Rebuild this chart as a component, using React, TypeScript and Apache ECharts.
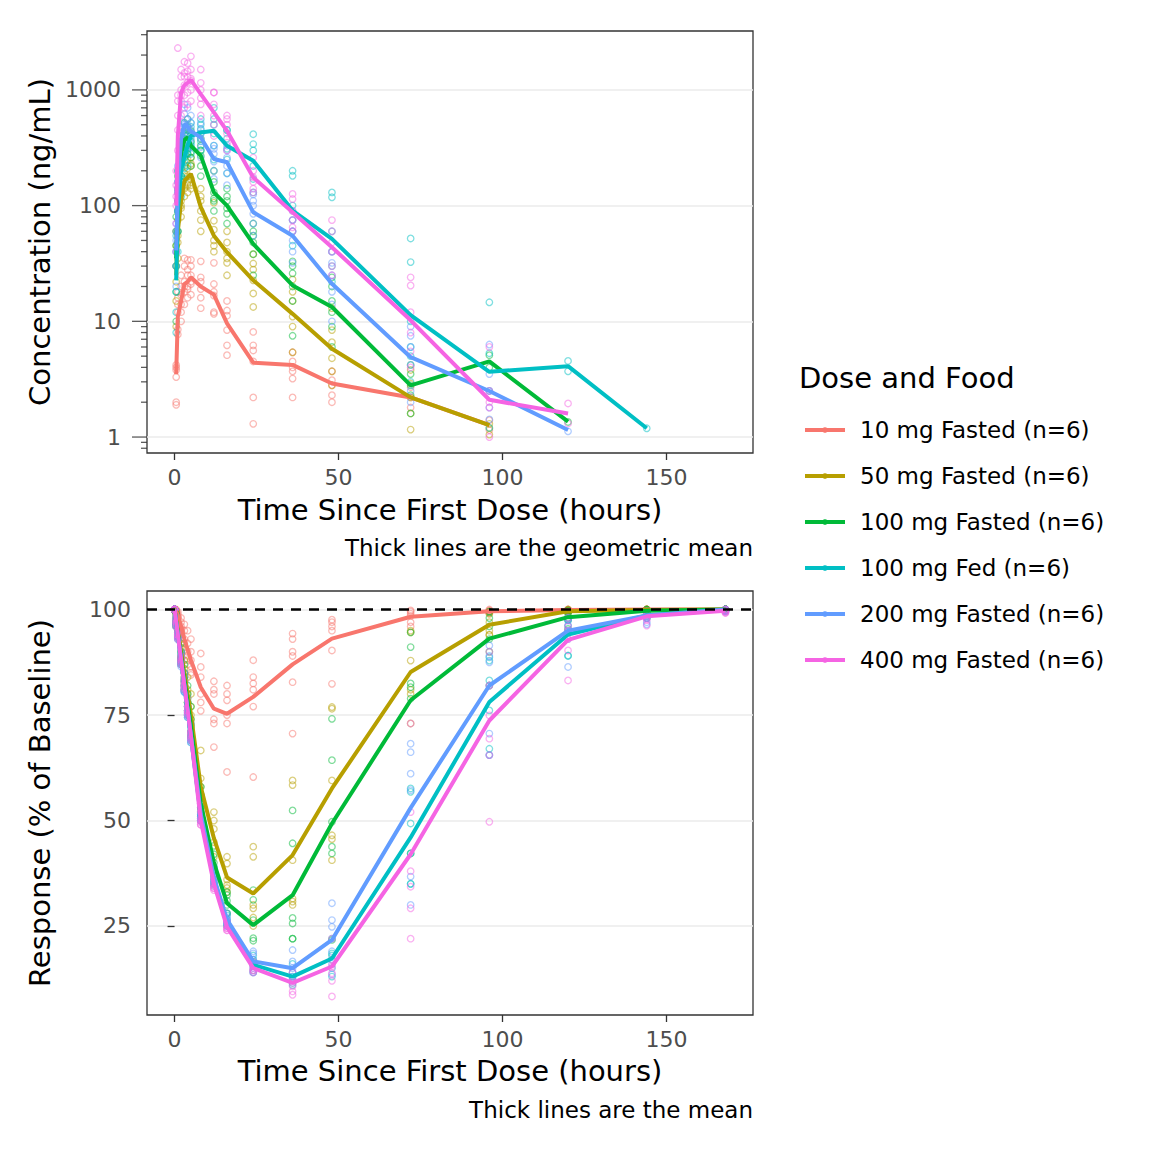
import React, { useEffect, useRef } from 'react';
import * as echarts from 'echarts';

const FONT = 'DejaVu Sans';

const groupNames = [
  '10 mg Fasted (n=6)',
  '50 mg Fasted (n=6)',
  '100 mg Fasted (n=6)',
  '100 mg Fed (n=6)',
  '200 mg Fasted (n=6)',
  '400 mg Fasted (n=6)',
];
const groupColors = ['#F8766D', '#B79F00', '#00BA38', '#00BFC4', '#619CFF', '#F564E3'];

// sampling times (hours)
const pkTimes = [0.5, 1, 2, 3, 4, 5, 8, 12, 16, 24, 36, 48, 72, 96, 120, 144];
const pdTimes = [0, 0.5, 1, 2, 3, 4, 5, 8, 12, 16, 24, 36, 48, 72, 96, 120, 144, 168];

// axis ticks
const xTickValues = [0, 50, 100, 150];
const pdTickValues = [25, 50, 75, 100];
const pkMajorTicks = [1, 10, 100, 1000];
const pkMinorTicks = [0.8, 0.9, 2, 3, 4, 5, 6, 7, 8, 9, 20, 30, 40, 50, 60, 70, 80, 90,
  200, 300, 400, 500, 600, 700, 800, 900, 2000, 3000];

// geometric mean concentration (ng/mL), one value per pkTimes entry
const pkMean10 = [3.5, 11, 15, 21, 22, 24, 20, 17, 9.6, 4.4, 4.2, 2.9, 2.2, 1.27, null, null];
const pkMean50 = [25, 60, 110, 164, 175, 188, 97, 55, 39.6, 22.6, 11.6, 5.8, 2.2, 1.27, null, null];
const pkMean100 = [35, 120, 280, 370, 388, 329, 270, 130, 100, 46.6, 20.4, 13.3, 2.8, 4.5, 1.36, null];
const pkMeanFed = [22.6, 90, 200, 261, 330, 400, 428, 443, 329, 244, 90.6, 51.6, 11.3, 3.66, 4.1, 1.19];
const pkMean200 = [41, 150, 380, 506, 480, 440, 388, 253, 237, 87.5, 55, 21.1, 4.9, 2.5, 1.15, null];
const pkMean400 = [100, 400, 950, 1100, 1150, 1220, 920, 640, 443, 175, 87.5, 43.7, 10.2, 2.1, 1.6, null];

// individual concentrations, one list per pkTimes entry
const pkObs10 = [
  [3.3, 3.8, 4.0, 4.2, 2.0, 1.9], [7.7, 8.5, 12, 14, 16, 18], [10, 12, 14, 17, 20, 25],
  [14, 18, 20, 22, 30, 35], [16, 19, 20, 25, 28, 34], [17, 21, 22, 25, 30, 34],
  [13, 16, 19, 22, 24, 33], [11.6, 12, 16.7, 18, 21, 32], [5.1, 6.2, 8.4, 11.2, 12.4, 15],
  [1.3, 2.2, 4.5, 5.6, 6.2, 8.1], [2.2, 3.2, 3.7, 4.0, 4.5, 5.4], [2.0, 2.3, 2.8, 3.1, 3.7],
  [1.8, 2.2, 2.7], [1.15, 1.4], [], [],
];
const pkObs50 = [
  [9, 15, 22, 30, 45, 60], [35, 48, 55, 60, 75, 90], [80, 95, 100, 110, 130, 160],
  [120, 140, 150, 180, 190, 220], [130, 150, 160, 180, 210, 250], [140, 150, 170, 220, 230, 260],
  [60, 75, 90, 110, 120, 140], [40, 45, 50, 62, 74, 106], [25, 32, 35, 40, 48, 60],
  [13.3, 17.4, 22.6, 28, 31.6, 38], [5.4, 9, 11, 15, 18, 23], [2.8, 3.7, 4.8, 6.6, 8.4, 13],
  [1.16, 1.6, 2.2, 2.9, 3.8], [1.05, 1.2, 1.3], [], [],
];
const pkObs100 = [
  [10, 18, 30, 45, 60, 80], [60, 90, 110, 140, 180, 200], [180, 230, 250, 320, 350, 400],
  [260, 300, 330, 420, 450, 520], [280, 310, 350, 450, 480, 560], [220, 260, 290, 360, 420, 440],
  [180, 220, 270, 300, 330, 380], [90, 110, 115, 130, 160, 200], [70, 85, 95, 110, 120, 140],
  [25, 38, 48, 55, 60, 70], [7.5, 15, 20, 26, 30, 33], [6, 9, 12, 15, 20, 24],
  [1.6, 2.3, 2.8, 3.5, 4.2], [4.0, 5.1], [1.35], [],
];
const pkObsFed = [
  [8, 12, 18, 30, 40, 55], [40, 60, 90, 110, 130, 160], [120, 160, 180, 210, 260, 300],
  [170, 210, 240, 270, 330, 380], [220, 280, 300, 340, 420, 450], [280, 330, 350, 400, 480, 520],
  [300, 360, 420, 460, 500, 560], [250, 330, 420, 500, 560, 700], [190, 250, 310, 380, 450, 450],
  [130, 170, 220, 300, 340, 414], [45, 60, 75, 100, 181, 200], [22, 30, 40, 60, 118, 130],
  [3, 5, 6, 10, 32.5, 52], [1.2, 2.5, 5.3, 14.6], [3.7, 4.55], [1.19],
];
const pkObs200 = [
  [20, 30, 40, 50, 60, 70], [90, 130, 140, 160, 200, 220], [250, 320, 380, 400, 480, 520],
  [360, 440, 500, 520, 620, 750], [330, 420, 480, 500, 560, 700], [320, 380, 420, 450, 520, 600],
  [260, 320, 380, 420, 450, 520], [170, 200, 240, 280, 310, 330], [150, 190, 220, 260, 300, 330],
  [55, 70, 85, 100, 110, 125], [32, 40, 50, 60, 75, 90], [10, 14, 18, 25, 32, 40],
  [2, 2.5, 4.2, 6, 7.5, 9], [1.42, 1.8, 2.5, 3.5, 6.3], [1.12], [],
];
const pkObs400 = [
  [40, 70, 100, 120, 150, 200], [300, 450, 600, 800, 900, 2300], [600, 800, 900, 1000, 1300, 1500],
  [700, 900, 1100, 1300, 1400, 1750], [750, 950, 1150, 1300, 1450, 1700], [800, 1000, 1200, 1250, 1500, 1950],
  [600, 750, 850, 1000, 1150, 1500], [400, 500, 600, 750, 950, 950], [300, 350, 420, 500, 560, 600],
  [130, 140, 160, 176, 200, 260], [60, 65, 75, 90, 114, 126], [25, 30, 40, 48, 60, 75],
  [4, 5.5, 8, 12, 20.4, 24], [1.0, 1.8, 2.0, 2.5, 6], [1.31, 1.95], [],
];

// mean response (% of baseline), one value per pdTimes entry
const pdMean10 = [100, 99.5, 98.5, 96, 93, 90.5, 88, 81.6, 76.5, 75.3, 79.3, 87.0, 93.1, 98.3, 99.6, 99.9, 100, 100];
const pdMean50 = [100, 97.5, 95, 90, 85, 80, 75, 58, 45.8, 36.5, 32.7, 41.8, 57.6, 85.2, 96.4, 99.6, 99.9, 100];
const pdMean100 = [100, 97.2, 94.5, 89, 83.5, 78, 72.5, 54, 40, 30.4, 25.2, 32.3, 49.3, 78.5, 93.1, 98.2, 99.7, 100];
const pdMeanFed = [100, 97, 94, 88, 82, 76, 70, 51, 36, 26, 15.8, 13, 17.3, 46, 78.1, 94.1, 98.6, 99.9];
const pdMean200 = [100, 97, 94, 88, 82, 76, 70, 51.5, 36.5, 26.5, 16.6, 15, 21.7, 53, 82, 95, 98.6, 100];
const pdMean400 = [100, 97, 94, 88, 82, 76, 70, 50, 35, 24.8, 15, 11.5, 15.4, 42, 73.7, 92.8, 98.4, 99.7];

// individual responses, one list per pdTimes entry
const pdObs10 = [
  [100, 100, 100, 100, 100, 100], [100, 99.8, 99.5, 99.4, 99.3, 99], [99.5, 99, 98.5, 98, 98.2, 97.8],
  [98, 97, 96, 95.5, 95, 94.5], [96.5, 95, 93, 92, 91, 90.5], [95, 92, 90, 89, 88, 87],
  [93, 90, 88, 86.5, 85, 84.5], [89.6, 86.4, 84, 80, 78, 76], [83, 81, 80, 74, 73, 67.4],
  [82, 80, 78.5, 75, 73, 61.5], [88, 84, 82.5, 81, 77, 60.3], [94.3, 93, 90, 89, 82.8, 70.6],
  [97.6, 97, 96, 95, 90.3, 82.4], [99.8, 99.5, 99, 98.5, 97, 96], [100, 99.8, 99.7, 99.5, 99.3, 99.2],
  [100, 100, 99.9, 99.9, 99.8, 99.8], [100, 100, 100, 100, 100, 99.9], [100, 100, 100, 100, 100, 100],
];
const pdObs50 = [
  [100, 100, 100, 100, 100, 100], [99.5, 98.5, 97.5, 97, 96.5, 96], [97, 96, 95, 94.5, 94, 93.5],
  [93, 91, 90, 89, 88.5, 88.5], [88, 86, 85, 84, 83.5, 83], [84, 81, 80, 79, 78, 78],
  [80, 77, 75, 74, 73, 71], [66.6, 60, 58, 56, 54, 53], [52, 50, 48, 44.9, 41.4, 38.3],
  [41.4, 39.8, 36, 34.7, 34, 33], [43.8, 41.4, 30, 29.2, 27, 25], [59.5, 58.4, 40.6, 31.5, 30.8, 30],
  [76.9, 76.5, 59.5, 46.5, 45.6, 40.6], [95, 94.6, 87.9, 81, 80, 73], [99.5, 99, 97, 95, 94, 94],
  [100, 99.8, 99.6, 99.5, 99.4, 99.3], [100, 100, 99.9, 99.9, 99.8, 99.8], [100, 100, 100, 100, 100, 100],
];
const pdObs100 = [
  [100, 100, 100, 100, 100, 100], [99, 98, 97, 96.5, 96, 96.5], [96, 95, 94.5, 94, 93.5, 94],
  [92, 90, 89, 88, 87, 88], [87, 85, 83.5, 82, 81, 82.5], [82, 80, 78, 77, 76, 75],
  [77, 74, 72.5, 71, 70, 70], [58, 56, 54, 53, 52, 51], [44, 42, 40, 39, 38, 37],
  [33, 32.3, 31, 30, 28, 28], [33.5, 31.2, 26.4, 22.1, 21.5, 16.5], [52.4, 44.6, 26.9, 25.6, 22, 22],
  [74.1, 64.3, 49.7, 43.8, 42.2, 21.7], [94.6, 91.1, 82.5, 81.6, 78.9, 42.2], [99.5, 98, 96, 93, 90, 82],
  [99.8, 99.5, 99, 98, 97.5, 95.4], [100, 99.9, 99.8, 99.6, 99.5, 99.4], [100, 100, 100, 100, 100, 100],
];
const pdObsFed = [
  [100, 100, 100, 100, 100, 100], [98, 97.5, 97, 96.5, 96, 97], [95, 94.5, 94, 93.5, 93, 94],
  [89.5, 88.5, 88, 87.5, 87, 87.5], [84, 83, 82, 81.5, 81, 80.5], [78, 77, 76, 75.5, 75, 74.5],
  [72, 71, 70, 69.5, 69, 68.5], [53, 51.5, 51, 50.5, 50, 50], [38, 37, 36, 35.5, 35, 34.5],
  [27.5, 26.5, 26, 25.5, 25, 25], [18, 17, 16, 15.5, 14.5, 14], [16, 14, 13, 12.5, 11.5, 11],
  [22, 18.5, 18, 17, 15, 13], [57.6, 56.8, 49.3, 42.2, 35, 35], [88.7, 87.9, 83.2, 76.1, 67, 65.5],
  [98, 97.5, 96.2, 95, 89.1, 89], [99.5, 99, 98.5, 98.5, 98, 98], [100, 100, 99.9, 99.8, 99.8, 99.7],
];
const pdObs200 = [
  [100, 100, 100, 100, 100, 100], [98.5, 97.5, 97, 96.5, 96, 96.5], [95.5, 94.5, 94, 93.5, 93, 93.5],
  [90, 89, 88, 87.5, 87, 86.5], [85, 83, 82, 81, 80.5, 80.5], [79, 77, 76, 75.5, 75, 74.5],
  [73, 71, 70, 69.5, 69, 68.5], [54, 52, 51.5, 51, 50.5, 50], [39, 37.5, 36.5, 36, 35, 35],
  [28, 27, 26.5, 26, 26, 25.5], [19, 18.5, 17, 16, 15, 14], [19.3, 16.6, 15, 14, 13, 12],
  [30.4, 26.4, 24.8, 19, 16, 13.5], [68.2, 66.2, 61.1, 57.2, 36.7, 30], [91.5, 89, 87.5, 82, 70.6, 65.5],
  [98, 97.4, 96.2, 95, 93, 86.4], [99.5, 99, 98.5, 98, 97, 96.5], [100, 100, 99.8, 99.7, 99.6, 99.5],
];
const pdObs400 = [
  [100, 100, 100, 100, 100, 100], [98, 97.5, 97, 96.5, 96, 97], [95, 94.5, 94, 93.5, 93, 94],
  [89, 88.5, 88, 87.5, 87, 88], [83, 83, 82, 81.5, 81, 82], [77, 77, 76, 75.5, 75, 76],
  [71, 71, 70.5, 70, 69.5, 69], [52, 50.5, 50, 49.5, 49, 49], [36, 35, 34.5, 34, 34, 33.5],
  [26, 25, 24.5, 24.5, 24, 24], [16.5, 15.5, 15, 14.5, 14.5, 14], [14, 12, 11.5, 10.7, 9.5, 8.7],
  [22, 17, 15.4, 13.8, 12, 8.3], [73, 52, 38, 34.3, 29.2, 22], [90, 82, 74.9, 69.4, 65.5, 49.7],
  [98, 96, 95, 93, 90.3, 83.2], [99.5, 99, 98.5, 98, 97.5, 96.2], [100, 100, 99.7, 99.5, 99.3, 99.2],
];

const pkMeans = [pkMean10, pkMean50, pkMean100, pkMeanFed, pkMean200, pkMean400];
const pkObs = [pkObs10, pkObs50, pkObs100, pkObsFed, pkObs200, pkObs400];
const pdMeans = [pdMean10, pdMean50, pdMean100, pdMeanFed, pdMean200, pdMean400];
const pdObs = [pdObs10, pdObs50, pdObs100, pdObsFed, pdObs200, pdObs400];

// panel ranges (ggplot's 5% expansion)
const X_MIN = -8.4;
const X_MAX = 176.4;
const PK_MIN = 0.728;
const PK_MAX = 3228;
const PD_MIN = 3.9;
const PD_MAX = 104.4;

const toLine = (times: number[], vals: (number | null)[]) =>
  times.map((t, i) => [t, vals[i]]).filter((p) => p[1] != null);

const toPoints = (times: number[], obs: number[][]) => {
  const out: number[][] = [];
  obs.forEach((list, i) => list.forEach((v) => out.push([times[i], v])));
  return out;
};

const tickStyle = { color: '#333333', width: 1.3 };
const labelStyle = { color: '#4D4D4D', fontSize: 22, fontFamily: FONT };
const gridLine = { show: true, lineStyle: { color: '#EBEBEB', width: 1.5 } };

const xAxisFor = (gridIndex: number) => ({
  type: 'value',
  gridIndex,
  min: X_MIN,
  max: X_MAX,
  axisLine: { show: false },
  axisTick: { show: true, customValues: xTickValues, length: 7, lineStyle: tickStyle },
  axisLabel: { ...labelStyle, customValues: xTickValues, margin: 13 },
  splitLine: { show: false },
});

const text = (t: string, x: number, y: number, size: number, align = 'center', rotation = 0) => ({
  type: 'text',
  x,
  y,
  rotation,
  silent: true,
  style: {
    text: t,
    fontSize: size,
    fontFamily: FONT,
    fill: '#000000',
    align,
    verticalAlign: 'middle',
    textAlign: align,
    textVerticalAlign: 'middle',
  },
});

const App: React.FC = () => {
  const chartRef = useRef<HTMLDivElement>(null);

  useEffect(() => {
    if (!chartRef.current) return;
    const chart = echarts.init(chartRef.current, undefined, { renderer: 'svg' });

    const series: any[] = [];
    // mean lines first so the legend takes its icons from them
    groupNames.forEach((name, g) => {
      const common = {
        type: 'line',
        name,
        showSymbol: false,
        symbol: 'circle',
        symbolSize: 6,
        lineStyle: { width: 4, color: groupColors[g] },
        itemStyle: { color: groupColors[g] },
        z: 3,
      };
      series.push({ ...common, xAxisIndex: 0, yAxisIndex: 0, data: toLine(pkTimes, pkMeans[g]) });
      series.push({ ...common, xAxisIndex: 1, yAxisIndex: 1, data: toLine(pdTimes, pdMeans[g]) });
    });
    groupNames.forEach((name, g) => {
      const common = {
        type: 'scatter',
        name,
        symbol: 'circle',
        symbolSize: 6.5,
        itemStyle: { color: 'rgba(0,0,0,0)', borderColor: groupColors[g], borderWidth: 1.3, opacity: 0.5 },
        z: 2,
      };
      series.push({ ...common, xAxisIndex: 0, yAxisIndex: 0, data: toPoints(pkTimes, pkObs[g]) });
      series.push({ ...common, xAxisIndex: 1, yAxisIndex: 1, data: toPoints(pdTimes, pdObs[g]) });
    });
    // baseline reference
    series.push({
      type: 'line',
      xAxisIndex: 1,
      yAxisIndex: 1,
      data: [],
      z: 4,
      markLine: {
        silent: true,
        symbol: 'none',
        label: { show: false },
        lineStyle: { color: '#000000', type: [10, 8], width: 2.6 },
        data: [{ yAxis: 100 }],
      },
    });
    // log ticks on the concentration axis
    series.push({
      type: 'scatter',
      xAxisIndex: 0,
      yAxisIndex: 0,
      data: pkMajorTicks.map((v) => [X_MIN, v]),
      symbol: 'rect',
      symbolSize: [15, 1.3],
      symbolOffset: [-7.5, 0],
      itemStyle: { color: '#333333' },
      clip: false,
      silent: true,
      z: 5,
    });
    series.push({
      type: 'scatter',
      xAxisIndex: 0,
      yAxisIndex: 0,
      data: pkMinorTicks.map((v) => [X_MIN, v]),
      symbol: 'rect',
      symbolSize: [6, 1.3],
      symbolOffset: [-3, 0],
      itemStyle: { color: '#333333' },
      clip: false,
      silent: true,
      z: 5,
    });

    const options: any = {
      animation: false,
      backgroundColor: '#ffffff',
      textStyle: { fontFamily: FONT },
      grid: [
        { left: 147, top: 31, width: 606, height: 422, show: true, borderColor: '#333333', borderWidth: 1.3, backgroundColor: 'transparent' },
        { left: 147, top: 591, width: 606, height: 424, show: true, borderColor: '#333333', borderWidth: 1.3, backgroundColor: 'transparent' },
      ],
      xAxis: [xAxisFor(0), xAxisFor(1)],
      yAxis: [
        {
          type: 'log',
          logBase: 10,
          gridIndex: 0,
          min: PK_MIN,
          max: PK_MAX,
          axisLine: { show: false },
          axisTick: { show: false },
          axisLabel: {
            ...labelStyle,
            margin: 26,
            formatter: (v: number) => {
              const m = pkMajorTicks.find((t) => Math.abs(v - t) < t * 1e-6);
              return m === undefined ? '' : String(m);
            },
          },
          splitLine: { ...gridLine, showMinLine: false, showMaxLine: false },
        },
        {
          type: 'value',
          gridIndex: 1,
          min: PD_MIN,
          max: PD_MAX,
          axisLine: { show: false },
          axisTick: { show: true, customValues: pdTickValues, length: 7, lineStyle: tickStyle },
          axisLabel: { ...labelStyle, customValues: pdTickValues, margin: 16 },
          splitLine: gridLine,
        },
      ],
      legend: {
        data: groupNames,
        orient: 'vertical',
        left: 798,
        top: 412,
        itemWidth: 40,
        itemHeight: 7,
        itemGap: 20,
        selectedMode: false,
        lineStyle: { width: 4 },
        textStyle: { fontSize: 23, fontFamily: FONT, color: '#000000', lineHeight: 26, padding: [0, 0, 0, 10] },
      },
      graphic: [
        text('Concentration (ng/mL)', 40, 242, 29, 'center', Math.PI / 2),
        text('Response (% of Baseline)', 40, 803, 29, 'center', Math.PI / 2),
        text('Time Since First Dose (hours)', 450, 510, 29),
        text('Time Since First Dose (hours)', 450, 1071, 29),
        text('Thick lines are the geometric mean', 753, 548, 23, 'right'),
        text('Thick lines are the mean', 753, 1110, 23, 'right'),
        text('Dose and Food', 799, 378, 29, 'left'),
      ],
      series,
    };

    chart.setOption(options);
    return () => {
      chart.dispose();
    };
  }, []);

  return (
    <div
      ref={chartRef}
      style={{ position: 'absolute', left: 0, top: 0, width: 1152, height: 1152 }}
    />
  );
};

export default App;
